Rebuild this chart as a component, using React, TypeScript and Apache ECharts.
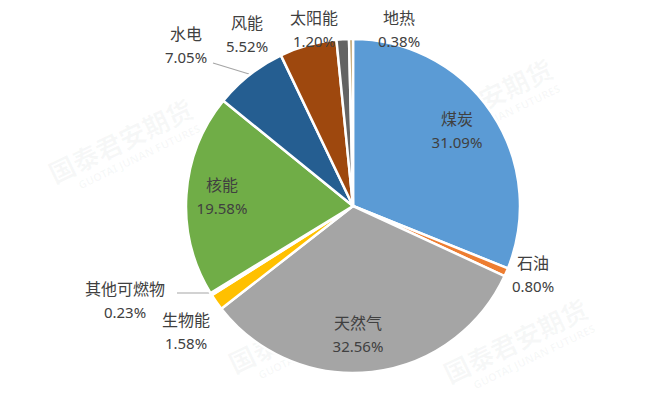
import React, { useEffect, useRef } from "react";
import * as echarts from "echarts";

const categories = ["煤炭", "石油", "天然气", "生物能", "其他可燃物", "核能", "水电", "风能", "太阳能", "地热"];
const shares = [31.09, 0.8, 32.56, 1.58, 0.23, 19.58, 7.05, 5.52, 1.2, 0.38];
const colors = ["#5B9BD5", "#ED7D31", "#A5A5A5", "#FFC000", "#4472C4", "#70AD47", "#255E91", "#9E480E", "#636363", "#B8975A"];
// label block centres (layout, not data)
const labelPos: [number, number][] = [
  [457, 130], [533, 274], [358, 334], [186, 331], [125, 300],
  [222, 196], [186, 45], [247, 34], [314, 29], [399, 29],
];
const labelLines: Record<number, [number, number][]> = {
  4: [[177, 293], [211, 293]],
  6: [[213, 63], [249, 74]],
};

const watermarks: [number, number][] = [[120, 140], [300, 330], [480, 100], [515, 340]];

export default function App() {
  const ref = useRef<HTMLDivElement>(null);
  useEffect(() => {
    if (!ref.current) return;
    const chart = echarts.init(ref.current, undefined, { renderer: "svg" });
    const data = categories.map((name, i) => ({
      name,
      value: shares[i],
      itemStyle: { color: colors[i] },
    }));
    const wm: any[] = [];
    watermarks.forEach(([x, y]) => {
      wm.push({
        type: "group",
        x,
        y,
        rotation: Math.PI / 7,
        silent: true,
        z: 100,
        children: [
          { type: "text", style: { text: "国泰君安期货", x: 0, y: 0, fill: "rgba(120,130,140,0.06)", font: "bold 26px 'Noto Sans CJK SC'", align: "center", verticalAlign: "middle" } },
          { type: "text", style: { text: "GUOTAI JUNAN FUTURES", x: 10, y: 23, fill: "rgba(120,130,140,0.06)", font: "bold 11px 'Noto Sans'", align: "center", verticalAlign: "middle" } },
        ],
      });
    });
    chart.setOption({
      animation: false,
      backgroundColor: "#ffffff",
      graphic: wm,
      series: [
        {
          type: "pie",
          center: [353, 206],
          radius: [0, 167],
          startAngle: 90,
          clockwise: true,
          data,
          itemStyle: { borderColor: "#ffffff", borderWidth: 2.5 },
          label: {
            show: true,
            formatter: (p: any) => `{n|${p.name}}\n{v|${p.value.toFixed(2)}%}`,
            fontFamily: "'Noto Sans CJK SC', 'Noto Sans', sans-serif",
            color: "#404040",
            align: "center",
            rich: {
              n: { fontSize: 16, lineHeight: 24, color: "#404040", fontFamily: "'Noto Sans CJK SC', sans-serif" },
              v: { fontSize: 15, lineHeight: 24, color: "#404040", fontFamily: "'Noto Sans', sans-serif" },
            },
          },
          labelLine: { show: true, lineStyle: { color: "#A6A6A6", width: 1.2 }, length: 10, length2: 10 },
          labelLayout: (p: any) => {
            const i = p.dataIndex;
            const [x, y] = labelPos[i];
            const res: any = { x, y, align: "center", verticalAlign: "middle", hideOverlap: false };
            if (labelLines[i]) {
              const pts = labelLines[i];
              res.labelLinePoints = [pts[1], pts[0], pts[0]];
            } else {
              res.labelLinePoints = [[x, y], [x, y], [x, y]];
            }
            return res;
          },
          emphasis: { disabled: true },
        },
      ],
    });
    return () => chart.dispose();
  }, []);
  return <div ref={ref} style={{ position: "fixed", left: 0, top: 0, width: 647, height: 406 }} />;
}
